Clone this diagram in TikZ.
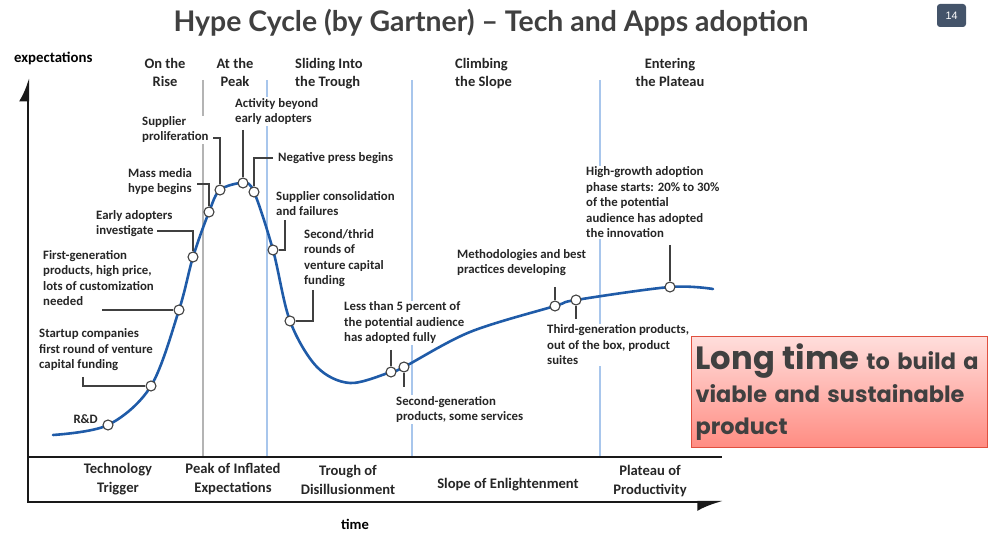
\documentclass[tikz,border=0pt]{standalone}
\usepackage{fontspec}
\setmainfont{Carlito}
\newfontfamily\titlefont{Lato}
\newfontfamily\boxfont{Poppins}
\newfontfamily\badgefont{Liberation Sans}
\usetikzlibrary{arrows.meta}

\definecolor{hypeblue}{HTML}{1F5BA8}
\definecolor{leadgray}{HTML}{404040}
\definecolor{sepblue}{HTML}{A8C6EC}
\definecolor{sepgray}{HTML}{B4B4B4}
\definecolor{titlegray}{HTML}{404040}
\definecolor{badgeslate}{HTML}{44546A}
\definecolor{boxtop}{HTML}{FFDEDC}
\definecolor{boxbottom}{HTML}{FF8C82}
\definecolor{boxborder}{HTML}{E0503F}

\tikzset{
    axis/.style={draw=black!90, line width=2pt},
    sepline/.style={line width=1.3pt},
    hypecurve/.style={draw=hypeblue, line width=2.6pt, line cap=round},
    dot/.style={circle, draw=leadgray, fill=white, line width=1.1pt,
        minimum size=10pt, inner sep=0pt},
    lead/.style={draw=leadgray, line width=1.3pt},
    note/.style={anchor=base west, align=left, fill=white, inner sep=1pt,
        font=\fontsize{12.8}{15.5}\selectfont\bfseries, text=black!85},
    phase/.style={anchor=base, fill=white, inner sep=1pt,
        font=\fontsize{14.5}{18}\selectfont\bfseries, text=black!85},
    stage/.style={anchor=base, align=center,
        font=\fontsize{14.6}{18.5}\selectfont\bfseries, text=black!85},
    badge/.style={fill=badgeslate, rounded corners=3pt, minimum width=29pt,
        minimum height=23pt, text=white, font=\badgefont\fontsize{10.8}{12}\selectfont},
    longbox/.style={draw=boxborder, line width=1.2pt, top color=boxtop,
        bottom color=boxbottom, anchor=north west, minimum width=296pt,
        minimum height=111pt, text width=288pt, inner xsep=4pt, align=left,
        text=titlegray, font=\boxfont\bfseries\fontsize{22.4}{32.5}\selectfont}
}

\begin{document}
\begin{tikzpicture}[x=1pt,y=-1pt]
    \useasboundingbox (0,0) rectangle (989,537);

    % title and page number
    \node[anchor=base, text=titlegray, font=\titlefont\bfseries\fontsize{28.4}{32}\selectfont]
        (title) at (491,32) {Hype Cycle (by Gartner) – Tech and Apps adoption};
    \node[badge] (page) at (951.5,15.5) {14};

    % phase separators
    \foreach \sx/\sc in {203/sepgray, 267/sepblue, 412/sepblue, 600/sepblue}
        \draw[sepline, draw=\sc] (\sx,80) -- (\sx,457);

    % axes
    \draw[axis, -{Latex[harpoon, length=20pt, width=18pt]}] (28,503) -- (28,78);
    \draw[axis, -{Latex[harpoon, swap, length=22pt, width=18pt]}] (28,502) -- (723,502);
    \draw[axis] (28,457) -- (722,457);
    \node[anchor=base west, font=\fontsize{14.8}{16}\selectfont\bfseries, inner sep=1pt]
        (expect) at (13,63) {expectations};
    \node[anchor=base, font=\fontsize{14.6}{16}\selectfont\bfseries] (time) at (355,529.5) {time};

    % phases on top (base = last line)
    \node[phase, align=center] (rise) at (165,86.5) {On the\\Rise};
    \node[phase, align=center] (peak) at (235,86.5) {At the\\Peak};
    \node[phase, align=left, anchor=base west] (slide) at (294,86.5) {Sliding Into\\the Trough};
    \node[phase, align=left, anchor=base west] (climb) at (454,86.5) {Climbing\\the Slope};
    \node[phase, align=center] (enter) at (670,86.5) {Entering\\the Plateau};

    % stages in the band
    \node[stage] (trigger) at (118,492.5) {Technology\\Trigger};
    \node[stage] (inflated) at (233,492.5) {Peak of Inflated\\Expectations};
    \node[stage] (trough) at (348,494.5) {Trough of\\Disillusionment};
    \node[stage] (slope) at (508,488.5) {Slope of Enlightenment};
    \node[stage] (plateau) at (650,494.5) {Plateau of\\Productivity};

    % notes (base = last line)
    \node[note, anchor=base east] (rdnote) at (99,424) {R\&D};
    \node[note] (startupnote) at (38,369) {Startup companies\\first round of venture\\capital funding};
    \node[note] (firstgennote) at (42,306) {First-generation\\products, high price,\\lots of customization\\needed};
    \node[note] (earlynote) at (95,235) {Early adopters\\investigate};
    \node[note] (massnote) at (127,193) {Mass media\\hype begins};
    \node[note] (prolifnote) at (141,141) {Supplier\\proliferation};
    \node[note] (beyondnote) at (234,123) {Activity beyond\\early adopters};
    \node[note] (negnote) at (277,162) {Negative press begins};
    \node[note] (consolnote) at (275,216) {Supplier consolidation\\and failures};
    \node[note] (roundsnote) at (303,285) {Second/thrid\\rounds of\\venture capital\\funding};
    \node[note] (less5note) at (343,342) {Less than 5 percent of\\the potential audience\\has adopted fully};
    \node[note] (secgennote) at (395,421) {Second-generation\\products, some services};
    \node[note] (methodnote) at (456,274) {Methodologies and best\\practices developing};
    \node[note] (thirdgennote) at (546,365) {Third-generation products,\\out of the box, product\\suites};
    \node[note] (highnote) at (585,238) {High-growth adoption\\phase starts: 20\% to 30\%\\of the potential\\audience has adopted\\the innovation};

    % points on the curve
    \foreach \n/\x/\y in {rd/108/425, startup/151/386, firstgen/179/310, early/193/257,
        mass/209/212, prolif/220/190, beyond/243/183, negpress/254/192, consol/273/250,
        rounds/290/321, less5/391/372, secgen/404/367, method/555/306,
        thirdgen/576/300, highgrowth/670/287}
        \coordinate (\n-pt) at (\x,\y);
    \coordinate (curvestart) at (53,435);
    \coordinate (troughA) at (317,367);
    \coordinate (troughB) at (350,383);
    \coordinate (slopemid) at (470,332);
    \coordinate (curveend) at (713,289);

    \draw[hypecurve] plot[smooth, tension=0.55] coordinates {(curvestart) (rd-pt)
        (startup-pt) (firstgen-pt) (early-pt) (mass-pt) (prolif-pt) (beyond-pt)
        (negpress-pt) (consol-pt) (rounds-pt) (troughA) (troughB) (less5-pt)
        (secgen-pt) (slopemid) (method-pt) (thirdgen-pt) (highgrowth-pt) (curveend)};

    \foreach \n in {rd, startup, firstgen, early, mass, prolif, beyond, negpress,
        consol, rounds, less5, secgen, method, thirdgen, highgrowth}
        \node[dot] (\n) at (\n-pt) {};

    % leaders
    \coordinate (startup-l) at (83,377);
    \coordinate (firstgen-l) at (102,310);
    \coordinate (early-l) at (157,231);
    \coordinate (mass-l) at (197,184);
    \coordinate (prolif-l) at (213,138);
    \coordinate (beyond-l) at (243,130);
    \coordinate (negpress-l) at (273,158);
    \coordinate (consol-l) at (285,220);
    \coordinate (rounds-l) at (313,290);
    \coordinate (less5-l) at (391,350);
    \coordinate (secgen-l) at (404,387);
    \coordinate (method-l) at (555,287);
    \coordinate (thirdgen-l) at (576,319);
    \coordinate (highgrowth-l) at (670,245);

    \draw[lead] (startup-l) |- (startup);
    \draw[lead] (firstgen-l) -- (firstgen);
    \draw[lead] (early-l) -| (early);
    \draw[lead] (mass-l) -| (mass);
    \draw[lead] (prolif-l) -| (prolif);
    \draw[lead] (beyond-l) -- (beyond);
    \draw[lead] (negpress-l) -| (negpress);
    \draw[lead] (consol-l) |- (consol);
    \draw[lead] (rounds-l) |- (rounds);
    \draw[lead] (less5-l) -- (less5);
    \draw[lead] (secgen-l) -- (secgen);
    \draw[lead] (method-l) -- (method);
    \draw[lead] (thirdgen-l) -- (thirdgen);
    \draw[lead] (highgrowth-l) -- (highgrowth);

    % the message box
    \node[longbox] (longtime) at (691,336)
        {{\fontsize{32.2}{32.5}\selectfont Long time} to build a\\viable and sustainable\\product};
\end{tikzpicture}
\end{document}
